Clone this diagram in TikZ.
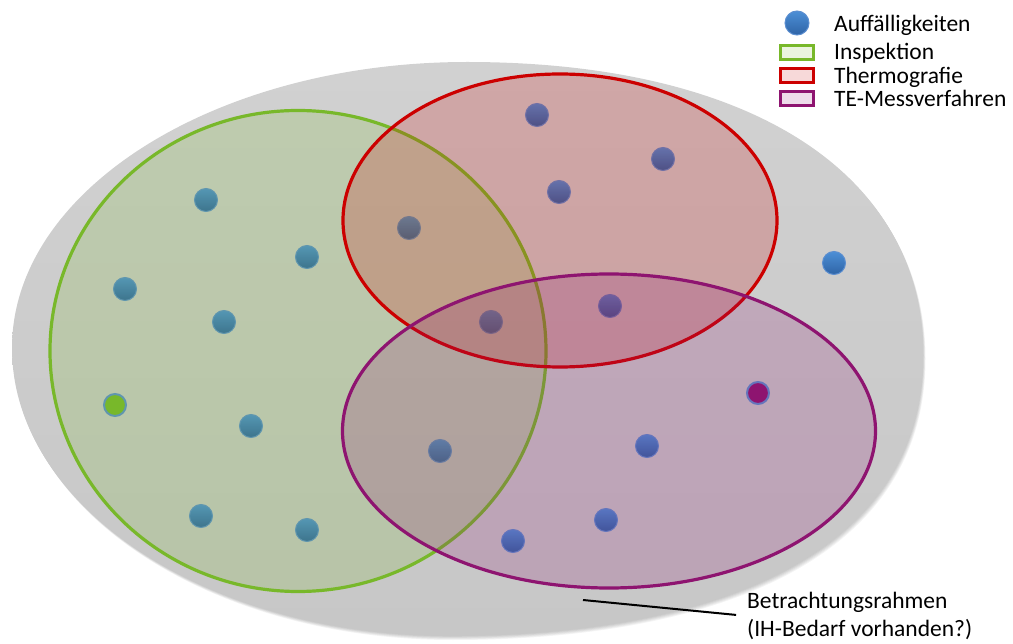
\documentclass[tikz,border=0pt]{standalone}
\usepackage{fontspec}
\setmainfont{Carlito}
\usetikzlibrary{shapes.geometric}
\definecolor{gtop}{HTML}{D1D1D1}
\definecolor{gbot}{HTML}{C7C7C7}
\definecolor{ingreen}{HTML}{78B82A}
\definecolor{thred}{HTML}{CC0000}
\definecolor{tepurple}{HTML}{8E1470}
\definecolor{dottop}{HTML}{4C8FD6}
\definecolor{dotbot}{HTML}{2F64A6}
\definecolor{dotrim}{HTML}{5B8ED0}
\tikzset{
  lbl/.style={font=\fontsize{23.5}{28}\selectfont, inner sep=0pt, anchor=base west},
  region/.style={ellipse, inner sep=0pt, line width=3.2pt, fill opacity=0.2, draw opacity=1},
  dot/.style={circle, inner sep=0pt, minimum size=23pt, top color=dottop, bottom color=dotbot, draw=dotrim, line width=1pt},
  odddot/.style={circle, inner sep=0pt, minimum size=22pt, draw=dotrim, line width=2pt},
  legbox/.style={line width=3pt, minimum width=33pt, minimum height=14pt, inner sep=0pt},
}
\def\frameshape{(12,348) .. controls (12,190) and (216,62) .. (467,62)
  .. controls (750,62) and (923,173) .. (923,355)
  .. controls (923,557) and (710,636) .. (450,636)
  .. controls (208,636) and (12,507) .. (12,348) -- cycle}
\begin{document}
\begin{tikzpicture}[x=1pt,y=-1pt]
\useasboundingbox (0,0) rectangle (1013,644);
% soft shadow of the frame
\foreach \k in {1,...,5}{
  \fill[black, opacity=0.045, xshift=0.5*\k pt, yshift=-0.8*\k pt] \frameshape;
}
\shade[top color=gtop, bottom color=gbot] \frameshape;
% dots (under the transparent regions)
\node[dot] (d1) at (537,115) {};
\node[dot] (d2) at (663,159) {};
\node[dot] (d3) at (559,192) {};
\node[dot] (d4) at (206,200) {};
\node[dot] (d5) at (409,228) {};
\node[dot] (d6) at (307,257) {};
\node[dot] (d7) at (125,289) {};
\node[dot] (d8) at (834,263) {};
\node[dot] (d9) at (224,322) {};
\node[dot] (d10) at (491,322) {};
\node[dot] (d11) at (610,306) {};
\node[odddot, fill=ingreen] (d12) at (115,405) {};
\node[odddot, fill=tepurple] (d13) at (758,393) {};
\node[dot] (d14) at (251,426) {};
\node[dot] (d15) at (440,451) {};
\node[dot] (d16) at (647,446) {};
\node[dot] (d17) at (201,516) {};
\node[dot] (d18) at (307,530) {};
\node[dot] (d19) at (606,520) {};
\node[dot] (d20) at (513,541) {};
% regions
\node[region, draw=ingreen, fill=ingreen, minimum width=496pt, minimum height=481pt] (insp) at (298,351) {};
\node[region, draw=thred, fill=thred, minimum width=434pt, minimum height=293pt] (thermo) at (560,220.5) {};
\node[region, draw=tepurple, fill=tepurple, minimum width=533pt, minimum height=314pt] (te) at (609,431) {};
% legend
\node[circle, inner sep=0pt, minimum size=24pt, top color=dottop, bottom color=dotbot, draw=dotrim, line width=1pt] (ldot) at (797,23) {};
\node[lbl] (l1) at (834,32) {Auffälligkeiten};
\node[legbox, draw=ingreen, fill=ingreen!15] (lb2) at (796.5,53) {};
\node[lbl] (l2) at (834,60) {Inspektion};
\node[legbox, draw=thred, fill=thred!15] (lb3) at (796.5,75.5) {};
\node[lbl] (l3) at (834,83.5) {Thermografie};
\node[legbox, draw=tepurple, fill=tepurple!15] (lb4) at (796.5,99) {};
\node[lbl] (l4) at (834,107) {TE-Messverfahren};
% frame label
\node[font=\fontsize{23.5}{28}\selectfont, inner sep=0pt, align=left, anchor=north west] (rahmen) at (747,592) {Betrachtungsrahmen\\(IH-Bedarf vorhanden?)};
\coordinate (rp) at (583,600);
\draw[line width=2pt, shorten >=11pt] (rp) -- (rahmen.west);
\end{tikzpicture}
\end{document}
